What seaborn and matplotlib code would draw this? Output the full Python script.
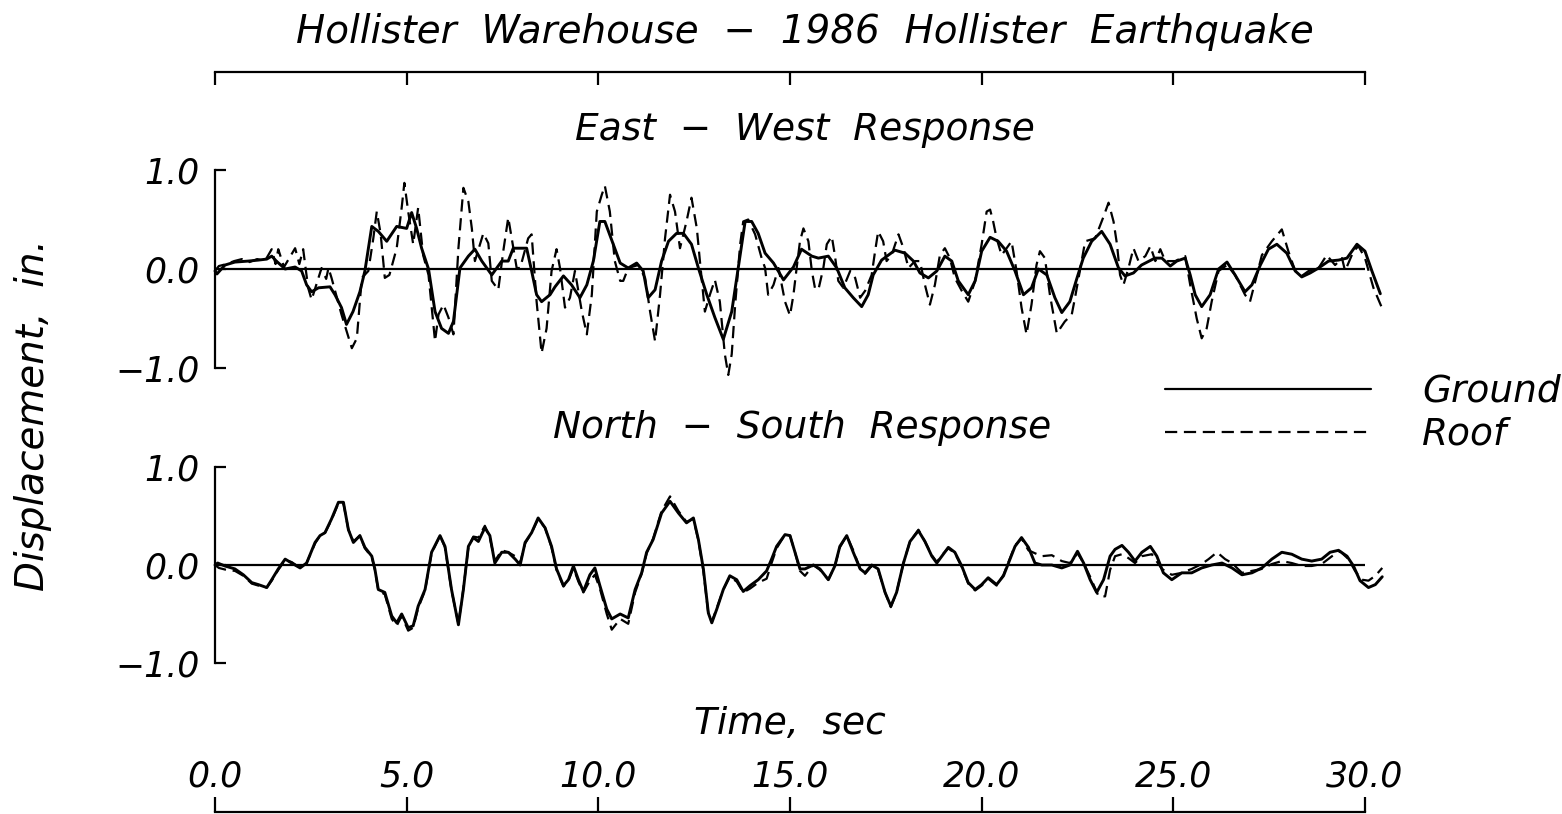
import numpy as np
import pandas as pd
import matplotlib
matplotlib.use("Agg")
import matplotlib.pyplot as plt
from matplotlib.lines import Line2D
import seaborn as sns

# ---------------- data ----------------
ew_ground_t = [0.0, 0.05, 0.26, 0.52, 0.87, 1.13, 1.35, 1.48, 1.6, 1.83, 2.09, 2.26, 2.39, 2.52, 2.7, 3.0,
               3.13, 3.3, 3.43, 3.6, 3.78, 3.91, 4.09, 4.26, 4.48, 4.74, 5.0, 5.13, 5.26, 5.39, 5.57, 5.74,
               5.91, 6.09, 6.22, 6.39, 6.61, 6.78, 6.96, 7.22, 7.48, 7.65, 7.78, 8.13, 8.26, 8.39, 8.52,
               8.74, 8.87, 9.09, 9.3, 9.52, 9.7, 9.87, 10.04, 10.17, 10.39, 10.57, 10.78, 11.0, 11.17,
               11.3, 11.48, 11.65, 11.83, 12.04, 12.22, 12.43, 12.61, 12.83, 13.04, 13.26, 13.48, 13.65,
               13.83, 14.0, 14.17, 14.35, 14.57, 14.83, 15.09, 15.3, 15.57, 15.74, 16.0, 16.22, 16.43,
               16.65, 16.87, 17.04, 17.17, 17.39, 17.74, 18.0, 18.22, 18.39, 18.61, 18.83, 19.04, 19.22,
               19.39, 19.65, 19.83, 20.0, 20.22, 20.43, 20.65, 20.87, 21.09, 21.3, 21.48, 21.7, 21.91,
               22.09, 22.3, 22.48, 22.65, 22.87, 23.13, 23.35, 23.57, 23.74, 23.96, 24.17, 24.52, 24.7,
               24.92, 25.09, 25.31, 25.44, 25.57, 25.74, 25.96, 26.18, 26.4, 26.61, 26.87, 27.05, 27.27,
               27.48, 27.7, 27.96, 28.18, 28.35, 28.57, 28.79, 29.05, 29.31, 29.53, 29.79, 30.0, 30.18, 30.4]
ew_ground_v = [-0.02, -0.05, 0.04, 0.07, 0.08, 0.09, 0.1, 0.13, 0.08, 0.0, 0.02, -0.02, -0.16, -0.23, -0.19, -0.18,
               -0.26, -0.39, -0.56, -0.43, -0.23, -0.02, 0.43, 0.38, 0.28, 0.43, 0.41, 0.57, 0.41, 0.21, 0.0, -0.43,
               -0.6, -0.65, -0.53, 0.01, 0.13, 0.2, 0.08, -0.06, 0.08, 0.08, 0.21, 0.21, -0.02, -0.26, -0.33,
               -0.26, -0.18, -0.07, -0.16, -0.29, -0.16, 0.08, 0.48, 0.48, 0.25, 0.06, 0.01, 0.06, -0.02,
               -0.29, -0.21, 0.08, 0.28, 0.36, 0.36, 0.25, 0.01, -0.26, -0.49, -0.71, -0.43, 0.01,
               0.48, 0.48, 0.36, 0.16, 0.06, -0.11, 0.02, 0.2, 0.13, 0.11, 0.13, 0.01, -0.19,
               -0.29, -0.38, -0.26, -0.06, 0.09, 0.19, 0.16, 0.08, -0.04, -0.09, -0.02, 0.13, 0.08,
               -0.12, -0.26, -0.12, 0.18, 0.32, 0.28, 0.18, -0.02, -0.26, -0.19, 0.0, -0.06, -0.29,
               -0.44, -0.33, -0.1, 0.11, 0.28, 0.38, 0.25, 0.01, -0.07, -0.04, 0.04, 0.11, 0.11,
               0.03, 0.08, 0.11, -0.06, -0.26, -0.38, -0.26, 0.0, 0.07, -0.06, -0.23, -0.16, 0.04,
               0.2, 0.25, 0.16, -0.02, -0.08, -0.04, 0.01, 0.08, 0.09, 0.11, 0.25, 0.18, -0.02, -0.25]

ew_roof_t = [0.0, 0.1, 0.3, 0.5, 0.7, 0.9, 1.1, 1.3, 1.48, 1.58, 1.65, 1.8, 2.09, 2.2, 2.3, 2.43, 2.52, 2.65,
             2.78, 2.9, 2.96, 3.04, 3.3, 3.57, 3.7, 3.83, 4.0, 4.13, 4.22, 4.32, 4.43, 4.55, 4.74, 4.87, 4.94,
             5.04, 5.17, 5.3, 5.43, 5.57, 5.74, 5.83, 5.96, 6.09, 6.22, 6.35, 6.48, 6.61, 6.7, 6.78, 7.0, 7.13,
             7.22, 7.39, 7.52, 7.65, 7.74, 7.87, 7.96, 8.17, 8.26, 8.39, 8.52, 8.65, 8.78, 8.91, 9.0, 9.13,
             9.26, 9.39, 9.57, 9.7, 9.83, 9.96, 10.09, 10.17, 10.3, 10.43, 10.57, 10.65, 10.78, 11.04, 11.22,
             11.35, 11.48, 11.61, 11.74, 11.87, 12.0, 12.13, 12.3, 12.43, 12.57, 12.65, 12.78, 12.91, 13.04,
             13.17, 13.3, 13.39, 13.48, 13.57, 13.7, 13.78, 13.91, 14.09, 14.26, 14.35, 14.43, 14.57, 14.7,
             14.87, 15.0, 15.09, 15.17, 15.26, 15.35, 15.48, 15.57, 15.65, 15.74, 15.87, 15.96, 16.09, 16.17,
             16.26, 16.39, 16.57, 16.7, 16.83, 16.96, 17.13, 17.22, 17.3, 17.43, 17.52, 17.65, 17.83, 17.96,
             18.09, 18.26, 18.39, 18.52, 18.65, 18.78, 18.91, 19.04, 19.17, 19.3, 19.48, 19.65, 19.83, 20.0,
             20.13, 20.22, 20.3, 20.39, 20.52, 20.78, 20.91, 21.04, 21.17, 21.3, 21.43, 21.52, 21.65, 21.78,
             21.96, 22.17, 22.35, 22.44, 22.57, 22.7, 22.96, 23.18, 23.31, 23.44, 23.53, 23.61, 23.7, 23.83,
             23.96, 24.09, 24.27, 24.4, 24.53, 24.66, 24.79, 25.05, 25.31, 25.44, 25.61, 25.74, 25.87, 26.0,
             26.18, 26.4, 26.61, 26.87, 27.0, 27.18, 27.31, 27.57, 27.83, 28.0, 28.18, 28.35, 28.53, 28.79,
             29.0, 29.22, 29.4, 29.48, 29.7, 29.83, 30.0, 30.22, 30.45]
ew_roof_v = [-0.02, 0.03, 0.05, 0.08, 0.1, 0.07, 0.1, 0.08, 0.2, 0.05, 0.2, 0.02, 0.21, 0.05, 0.2, -0.19, -0.31, -0.15,
             0.01, -0.1, 0.01, -0.09, -0.46, -0.8, -0.7, -0.09, -0.02, 0.31, 0.58, 0.36, -0.09, -0.06, 0.21, 0.62, 0.87,
             0.58, 0.25, 0.62, 0.14, -0.06, -0.73, -0.46, -0.36, -0.49, -0.66, 0.21, 0.82, 0.68, 0.41, 0.08, 0.36, 0.26,
             -0.12, -0.21, 0.18, 0.52, 0.31, 0.01, 0.01, 0.31, 0.35, -0.33, -0.85, -0.6, -0.02, 0.2, 0.01, -0.39,
             -0.29, -0.02, -0.43, -0.66, -0.26, 0.58, 0.75, 0.84, 0.58, 0.08, -0.12, -0.12, 0.01, 0.04, -0.09,
             -0.43, -0.73, -0.26, 0.31, 0.75, 0.58, 0.21, 0.48, 0.72, 0.41, 0.08, -0.43, -0.26, -0.11,
             -0.33, -0.86, -1.07, -0.86, -0.36, 0.25, 0.48, 0.5, 0.35, 0.11, 0.01, -0.26, -0.16, 0.01,
             -0.33, -0.47, -0.26, 0.0, 0.28, 0.41, 0.28, -0.02, -0.19, -0.21, 0.01, 0.25, 0.33, 0.14,
             -0.12, -0.19, -0.02, -0.09, -0.29, -0.22, -0.06, 0.18, 0.38, 0.28, 0.08, 0.14, 0.35, 0.21,
             0.01, 0.08, 0.08, -0.16, -0.36, -0.16, 0.14, 0.21, 0.11, -0.09, -0.22, -0.33, -0.12, 0.25,
             0.58, 0.6, 0.48, 0.31, 0.14, 0.28, -0.02, -0.39, -0.66, -0.36, 0.04, 0.18, 0.11, -0.26,
             -0.65, -0.53, -0.46, -0.28, 0.0, 0.28, 0.31, 0.53, 0.67, 0.48, 0.25, -0.06, -0.16, 0.01,
             0.21, 0.08, 0.13, 0.23, 0.08, 0.2, 0.08, 0.08, 0.13, -0.16, -0.5, -0.7, -0.6, -0.33,
             -0.02, 0.04, -0.06, -0.26, -0.33, -0.06, 0.14, 0.28, 0.4, 0.18, -0.02, -0.07, -0.02, 0.01,
             0.14, 0.04, 0.11, -0.02, 0.18, 0.23, 0.11, -0.19, -0.4]

ns_ground_t = [0.0, 0.07, 0.26, 0.52, 0.74, 0.96, 1.13, 1.35, 1.48, 1.65, 1.83, 2.0, 2.22, 2.39, 2.61, 2.74, 2.87,
               3.04, 3.22, 3.35, 3.48, 3.61, 3.78, 3.91, 4.09, 4.17, 4.26, 4.43, 4.61, 4.74, 4.87, 5.04, 5.17,
               5.3, 5.48, 5.65, 5.87, 6.0, 6.17, 6.35, 6.48, 6.61, 6.74, 6.87, 7.04, 7.17, 7.3, 7.48, 7.65,
               7.83, 7.96, 8.09, 8.26, 8.43, 8.61, 8.78, 8.91, 9.09, 9.22, 9.35, 9.48, 9.61, 9.78, 9.91, 10.04,
               10.22, 10.35, 10.57, 10.78, 10.96, 11.13, 11.26, 11.43, 11.65, 11.87, 12.09, 12.3, 12.48, 12.61,
               12.74, 12.87, 12.96, 13.09, 13.26, 13.43, 13.61, 13.78, 13.96, 14.17, 14.39, 14.52, 14.65, 14.87,
               15.0, 15.13, 15.26, 15.39, 15.61, 15.78, 16.0, 16.17, 16.3, 16.48, 16.65, 16.83, 16.96, 17.13,
               17.3, 17.48, 17.63, 17.78, 17.96, 18.13, 18.35, 18.52, 18.7, 18.83, 18.96, 19.13, 19.3, 19.48,
               19.65, 19.83, 20.0, 20.17, 20.39, 20.57, 20.7, 20.87, 21.04, 21.22, 21.39, 21.57, 21.83, 22.09,
               22.3, 22.5, 22.66, 22.83, 23.0, 23.18, 23.35, 23.48, 23.66, 23.83, 24.0, 24.18, 24.4, 24.57,
               24.74, 24.96, 25.22, 25.48, 25.74, 26.0, 26.27, 26.53, 26.79, 27.05, 27.31, 27.57, 27.83, 28.09,
               28.35, 28.61, 28.87, 29.09, 29.31, 29.53, 29.7, 29.87, 30.09, 30.27, 30.45]
ns_ground_v = [0.0, 0.02, -0.01, -0.04, -0.1, -0.18, -0.2, -0.23, -0.15, -0.04, 0.06, 0.02, -0.03, 0.02, 0.23, 0.3, 0.33,
               0.47, 0.64, 0.64, 0.36, 0.23, 0.3, 0.18, 0.09, -0.04, -0.25, -0.28, -0.52, -0.59, -0.5, -0.64, -0.62,
               -0.42, -0.25, 0.13, 0.3, 0.19, -0.25, -0.61, -0.25, 0.19, 0.28, 0.24, 0.38, 0.3, 0.02, 0.13, 0.13,
               0.06, 0.0, 0.23, 0.33, 0.48, 0.38, 0.19, -0.04, -0.21, -0.15, -0.01, -0.15, -0.27, -0.1, -0.03, -0.21,
               -0.45, -0.55, -0.5, -0.54, -0.25, -0.08, 0.13, 0.26, 0.53, 0.65, 0.53, 0.43, 0.48, 0.26,
               -0.04, -0.49, -0.59, -0.45, -0.25, -0.11, -0.15, -0.27, -0.21, -0.15, -0.06, 0.06, 0.19, 0.31,
               0.3, 0.13, -0.04, -0.04, 0.0, -0.04, -0.15, -0.01, 0.19, 0.3, 0.13, -0.04, -0.08, 0.0,
               -0.04, -0.28, -0.42, -0.28, 0.02, 0.24, 0.35, 0.24, 0.09, 0.02, 0.09, 0.18, 0.13, -0.01,
               -0.18, -0.25, -0.2, -0.13, -0.2, -0.11, 0.02, 0.19, 0.28, 0.18, 0.02, 0.0, 0.0, -0.03,
               0.0, 0.14, 0.02, -0.15, -0.28, -0.15, 0.09, 0.16, 0.2, 0.13, 0.04, 0.13, 0.19, 0.09,
               -0.08, -0.15, -0.08, -0.08, -0.03, 0.0, 0.02, -0.03, -0.1, -0.08, -0.03, 0.06, 0.13, 0.11,
               0.06, 0.04, 0.06, 0.13, 0.15, 0.09, -0.01, -0.16, -0.23, -0.2, -0.12]

ns_roof_t = [0.0, 0.1, 0.3, 0.52, 0.74, 0.96, 1.13, 1.35, 1.48, 1.65, 1.83, 2.0, 2.22, 2.39, 2.61, 2.74, 2.87,
             3.04, 3.22, 3.35, 3.48, 3.61, 3.78, 3.91, 4.09, 4.17, 4.26, 4.43, 4.61, 4.74, 4.87, 5.04, 5.17,
             5.3, 5.48, 5.65, 5.87, 6.0, 6.17, 6.35, 6.48, 6.61, 6.74, 6.87, 7.04, 7.17, 7.3, 7.48, 7.65,
             7.83, 7.96, 8.09, 8.26, 8.43, 8.61, 8.78, 8.91, 9.09, 9.22, 9.35, 9.48, 9.61, 9.78, 9.91, 10.04,
             10.22, 10.35, 10.57, 10.78, 10.96, 11.13, 11.26, 11.43, 11.65, 11.87, 12.09, 12.3, 12.48, 12.61,
             12.74, 12.87, 12.96, 13.09, 13.26, 13.43, 13.61, 13.78, 13.96, 14.17, 14.39, 14.52, 14.65, 14.87,
             15.0, 15.13, 15.26, 15.39, 15.61, 15.78, 16.0, 16.17, 16.3, 16.48, 16.65, 16.83, 16.96, 17.13,
             17.3, 17.48, 17.63, 17.78, 17.96, 18.13, 18.35, 18.52, 18.7, 18.83, 18.96, 19.13, 19.3, 19.48,
             19.65, 19.83, 20.0, 20.17, 20.39, 20.57, 20.7, 20.87, 21.04, 21.22, 21.39, 21.57, 21.83, 22.09,
             22.3, 22.5, 22.66, 22.83, 23.05, 23.22, 23.35, 23.48, 23.66, 23.83, 24.0, 24.18, 24.44, 24.7,
             24.96, 25.22, 25.48, 25.74, 25.92, 26.14, 26.35, 26.53, 26.79, 27.05, 27.31, 27.57, 27.83, 28.09,
             28.35, 28.61, 28.87, 29.14, 29.35, 29.57, 29.74, 29.92, 30.09, 30.27, 30.45]
ns_roof_v = [0.0, -0.03, -0.05, -0.06, -0.11, -0.19, -0.21, -0.23, -0.16, -0.05, 0.05, 0.03, -0.03, 0.02, 0.22, 0.3, 0.33,
             0.46, 0.63, 0.63, 0.36, 0.24, 0.3, 0.17, 0.08, -0.05, -0.26, -0.3, -0.55, -0.62, -0.52, -0.67, -0.64,
             -0.44, -0.26, 0.12, 0.3, 0.18, -0.26, -0.6, -0.24, 0.18, 0.29, 0.28, 0.4, 0.28, 0.04, 0.15, 0.13,
             0.09, 0.02, 0.22, 0.33, 0.47, 0.38, 0.18, -0.05, -0.22, -0.16, -0.03, -0.17, -0.28, -0.16, -0.1, -0.24,
             -0.5, -0.66, -0.55, -0.6, -0.28, -0.09, 0.12, 0.27, 0.55, 0.7, 0.55, 0.44, 0.47, 0.25,
             -0.06, -0.5, -0.58, -0.44, -0.25, -0.12, -0.17, -0.28, -0.24, -0.18, -0.14, 0.02, 0.17, 0.31,
             0.3, 0.13, -0.06, -0.11, 0.0, -0.05, -0.15, -0.01, 0.18, 0.3, 0.15, -0.04, -0.09, -0.01,
             -0.05, -0.28, -0.43, -0.28, 0.02, 0.24, 0.36, 0.24, 0.1, 0.03, 0.1, 0.17, 0.12, -0.02,
             -0.19, -0.26, -0.21, -0.14, -0.21, -0.1, 0.03, 0.2, 0.27, 0.15, 0.12, 0.09, 0.1, 0.04,
             0.02, 0.12, 0.02, -0.12, -0.32, -0.32, -0.05, 0.09, 0.11, 0.07, 0.02, 0.09, 0.11, -0.04,
             -0.1, -0.08, -0.04, 0.01, 0.06, 0.13, 0.06, 0.02, -0.08, -0.06, -0.04, 0.01, 0.04, 0.02,
             -0.01, -0.01, 0.01, 0.09, 0.14, 0.06, -0.06, -0.15, -0.16, -0.11, -0.03]

time_ticks = [0, 5, 10, 15, 20, 25, 30]
time_labels = ["0.0", "5.0", "10.0", "15.0", "20.0", "25.0", "30.0"]
disp_ticks = [-1.0, 0.0, 1.0]
disp_labels = ["\u22121.0", "0.0", "1.0"]
series_names = ["Ground", "Roof"]

# ---------------- figure ----------------
sns.set_theme(style="white")
plt.rcParams['font.family'] = ['DejaVu Sans']
plt.rcParams['font.style'] = 'italic'
plt.rcParams['axes.unicode_minus'] = True
for k in ['text.color', 'axes.labelcolor', 'xtick.color', 'ytick.color', 'axes.edgecolor']:
    plt.rcParams[k] = 'black'

W, H = 1562, 814
fig = plt.figure(figsize=(W / 100, H / 100), dpi=100)
fig.patch.set_facecolor('white')

def fx(px):
    return px / W

def fy(py):
    return 1 - py / H

X0, X1 = 215, 1365
FS = 27      # titles / labels
TFS = 25     # tick labels
DASH = (0, (5.5, 3.0))

def make_panel(top, bot, tg, vg, tr, vr):
    ax = fig.add_axes([fx(X0), fy(bot), fx(X1 - X0), (bot - top) / H])
    ax.set_facecolor('none')
    sns.lineplot(x=tg, y=vg, ax=ax, color='black', lw=2.1, sort=False, estimator=None,
                 label=series_names[0], clip_on=False)
    sns.lineplot(x=tr, y=vr, ax=ax, color='black', lw=1.6, sort=False, estimator=None,
                 label=series_names[1], linestyle=DASH, clip_on=False)
    ax.axhline(0, color='black', lw=1.6, zorder=1)
    ax.set_xlim(time_ticks[0], time_ticks[-1])
    ax.set_ylim(-1, 1)
    for s in ['top', 'right', 'bottom']:
        ax.spines[s].set_visible(False)
    ax.spines['left'].set_color('black')
    ax.spines['left'].set_linewidth(1.6)
    ax.set_xticks([])
    ax.set_yticks(disp_ticks)
    ax.set_yticklabels(disp_labels)
    ax.tick_params(axis='y', direction='in', length=8, width=1.6, color='black',
                   labelsize=TFS, pad=11, left=True)
    ax.set_xlabel('')
    ax.set_ylabel('')
    leg = ax.get_legend()
    if leg is not None:
        leg.remove()
    return ax

ax_ew = make_panel(170, 368, ew_ground_t, ew_ground_v, ew_roof_t, ew_roof_v)
ax_ns = make_panel(467, 663, ns_ground_t, ns_ground_v, ns_roof_t, ns_roof_v)

# top decorative scale (line near y=72, ticks pointing down)
ax_top = fig.add_axes([fx(X0), fy(73), fx(X1 - X0), 1 / H])
ax_top.set_facecolor('none')
ax_top.set_xlim(time_ticks[0], time_ticks[-1])
for s in ['left', 'right', 'bottom']:
    ax_top.spines[s].set_visible(False)
ax_top.spines['top'].set_linewidth(1.6)
ax_top.set_yticks([])
ax_top.set_xticks(time_ticks)
ax_top.xaxis.set_ticks_position('top')
ax_top.tick_params(axis='x', direction='in', length=9, width=1.6,
                   labeltop=False, labelbottom=False, top=True, bottom=False)

# bottom time scale (line at y=812, ticks pointing up, labels above)
ax_bot = fig.add_axes([fx(X0), fy(813), fx(X1 - X0), 1 / H])
ax_bot.set_facecolor('none')
ax_bot.set_xlim(time_ticks[0], time_ticks[-1])
for s in ['left', 'right', 'bottom']:
    ax_bot.spines[s].set_visible(False)
ax_bot.spines['top'].set_linewidth(1.6)
ax_bot.set_yticks([])
ax_bot.set_xticks(time_ticks)
ax_bot.set_xticklabels(time_labels)
ax_bot.xaxis.set_ticks_position('top')
ax_bot.xaxis.set_label_position('top')
ax_bot.tick_params(axis='x', direction='out', length=11, width=1.6,
                   labeltop=True, labelbottom=False, top=True, bottom=False,
                   labelsize=TFS, pad=2)
ax_bot.set_xlabel("Time,  sec", fontsize=FS, labelpad=19)

# texts
fig.text(fx(805), fy(43), "Hollister  Warehouse  \u2212  1986  Hollister  Earthquake",
         ha='center', va='baseline', fontsize=28)
fig.text(fx(805), fy(140), "East  \u2212  West  Response", ha='center', va='baseline', fontsize=FS)
fig.text(fx(802), fy(438), "North  \u2212  South  Response", ha='center', va='baseline', fontsize=FS)
fig.text(fx(33), fy(415), "Displacement,  in.", ha='center', va='center', rotation=90, fontsize=28)

# legend
handles = [Line2D([], [], color='black', lw=1.6),
           Line2D([], [], color='black', lw=1.6, linestyle=DASH)]
fig.legend(handles, series_names, loc='upper left', bbox_to_anchor=(fx(1165), fy(374)),
           frameon=False, fontsize=FS, handlelength=5.5, handletextpad=1.35,
           labelspacing=0.18, borderpad=0, borderaxespad=0)

fig.savefig("out.png", dpi=100, facecolor='white')
